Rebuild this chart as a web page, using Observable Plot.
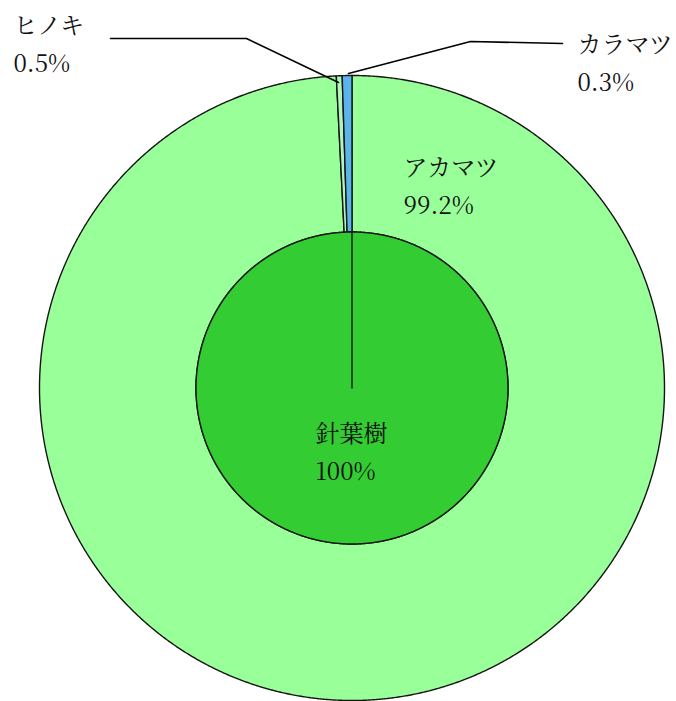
<!DOCTYPE html>
<html><head><meta charset="utf-8">
<script src="https://cdn.jsdelivr.net/npm/d3@7"></script>
<script src="https://cdn.jsdelivr.net/npm/@observablehq/plot@0.6"></script>
<style>html,body{margin:0;padding:0;background:#fff;overflow:hidden}</style>
</head><body><div id="chart"></div>
<script>
// ---- data ----
const innerNames = ["針葉樹"];
const innerValues = [100];
const outerNames = ["アカマツ", "カラマツ", "ヒノキ"];
const outerValues = [99.2, 0.3, 0.5];
const innerColors = ["#33cc33"];
const outerColors = ["#99ff99", "#b0f5bd", "#5cb4ec"];

// ---- layout ----
const W = 676, H = 701;
const R = 312.5, RIN = 156;
const CX = 351.5, CY = 387.5; // pixel center
const FONT = '"Noto Serif CJK JP", "Noto Sans CJK JP", serif';
const toX = px => px - CX, toY = py => CY - py;

function wedge(a0, a1, rIn, rOut) {
  const pts = [];
  const n = Math.max(2, Math.ceil((a1 - a0) / (Math.PI / 720)));
  for (let i = 0; i <= n; i++) {
    const a = a0 + (a1 - a0) * i / n;
    pts.push({x: rOut * Math.sin(a), y: rOut * Math.cos(a)});
  }
  if (rIn > 0) {
    for (let i = n; i >= 0; i--) {
      const a = a0 + (a1 - a0) * i / n;
      pts.push({x: rIn * Math.sin(a), y: rIn * Math.cos(a)});
    }
  } else {
    pts.push({x: 0, y: 0});
    pts.unshift({x: 0, y: 0});
  }
  pts.push(pts[0]);
  return pts;
}

function ring(names, values, colors, rIn, rOut) {
  const total = d3.sum(values);
  let acc = 0;
  return names.map((name, i) => {
    const a0 = acc / total * 2 * Math.PI;
    acc += values[i];
    const a1 = acc / total * 2 * Math.PI;
    return {name, color: colors[i], pts: wedge(a0, a1, rIn, rOut)};
  });
}

const slices = [
  ...ring(outerNames, outerValues, outerColors, RIN, R),
  ...ring(innerNames, innerValues, innerColors, 0, RIN)
];

const pct = v => `${v}%`;
const labelText = (names, values) => names.map((n, i) => `${n}\n${pct(values[i])}`);
const outerLabels = labelText(outerNames, outerValues);
const innerLabels = labelText(innerNames, innerValues);

// label anchors (pixel, block middle-left)
const labels = [
  {text: outerLabels[0], px: 403, py: 182},
  {text: outerLabels[2], px: 13, py: 40},
  {text: outerLabels[1], px: 577, py: 59},
  {text: innerLabels[0], px: 315, py: 448.5}
].map(d => ({...d, x: toX(d.px), y: toY(d.py)}));

const leaders = [
  [[110, 38], [246, 38], [338, 82]],
  [[562, 43], [470, 41], [348, 73]]
].map(l => l.map(([px, py]) => ({x: toX(px), y: toY(py)})));

const marks = [];
for (const s of slices) {
  marks.push(Plot.line(s.pts, {x: "x", y: "y", fill: s.color, stroke: "#151515", strokeWidth: 1.4, curve: "linear"}));
}
for (const l of leaders) {
  marks.push(Plot.line(l, {x: "x", y: "y", stroke: "#000", strokeWidth: 1.6}));
}
marks.push(Plot.text(labels, {
  x: "x", y: "y", text: "text", textAnchor: "start", lineAnchor: "middle",
  lineHeight: 1.6, fontSize: 24, fill: "#111", fontFamily: FONT
}));

const chart = Plot.plot({
  width: W, height: H,
  marginLeft: CX - R, marginRight: W - (CX + R),
  marginTop: CY - R, marginBottom: H - (CY + R),
  x: {domain: [-R, R], axis: null},
  y: {domain: [-R, R], axis: null},
  style: {fontFamily: FONT, background: "#fff", overflow: "visible"},
  marks
});
document.getElementById("chart").append(chart);
</script>
</body></html>
